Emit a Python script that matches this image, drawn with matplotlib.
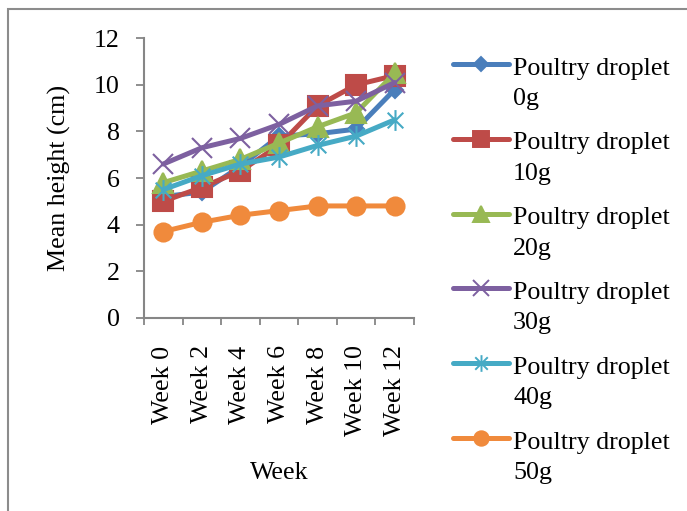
import matplotlib
matplotlib.use('Agg')
import matplotlib.pyplot as plt
from matplotlib.lines import Line2D
from matplotlib.patches import Rectangle
from matplotlib.path import Path

weeks = ['Week 0', 'Week 2', 'Week 4', 'Week 6', 'Week 8', 'Week 10', 'Week 12']
doses = ['0g', '10g', '20g', '30g', '40g', '50g']

h_0g = [5.2, 5.4, 6.5, 7.8, 7.9, 8.1, 9.8]
h_10g = [5.0, 5.6, 6.3, 7.4, 9.1, 10.0, 10.4]
h_20g = [5.8, 6.3, 6.8, 7.5, 8.2, 8.8, 10.5]
h_30g = [6.6, 7.3, 7.7, 8.3, 9.1, 9.3, 10.1]
h_40g = [5.5, 6.1, 6.6, 6.9, 7.4, 7.8, 8.5]
h_50g = [3.7, 4.1, 4.4, 4.6, 4.8, 4.8, 4.8]
series = [h_0g, h_10g, h_20g, h_30g, h_40g, h_50g]

colors = ['#4A7EBB', '#BE4B48', '#98B954', '#7D60A0', '#46AAC5', '#F08A3C']

# excel style star: vertical bar + x
star = Path([(0, -1), (0, 1), (-0.75, -0.75), (0.75, 0.75), (-0.75, 0.75), (0.75, -0.75)],
            [Path.MOVETO, Path.LINETO, Path.MOVETO, Path.LINETO, Path.MOVETO, Path.LINETO])
markers = ['D', 's', '^', 'x', star, 'o']
msizes = [8.5, 14, 14, 15, 15, 13]

fs = 18.7
plt.rcParams['font.family'] = ['Liberation Serif', 'DejaVu Serif']

W, H = 687, 511
fig = plt.figure(figsize=(W / 100, H / 100), dpi=100)
ax = fig.add_axes([144 / W, 1 - 317.7 / H, 270 / W, 279.4 / H])

x = [i + 0.5 for i in range(len(weeks))]
lines = []
for vals, c, m, ms in zip(series, colors, markers, msizes):
    ln, = ax.plot(x, vals, color=c, lw=3.6, marker=m, ms=ms,
                  mfc=c, mec=c, mew=1.5, solid_capstyle='round')
    lines.append(ln)

ax.set_xlim(0, 7)
ax.set_ylim(0, 12)
ax.set_yticks(range(0, 13, 2))
ax.set_xticks(range(0, 8))
ax.set_xticklabels([])
ax.set_xticks(x, minor=True)
ax.set_xticklabels(weeks, minor=True, rotation=90, fontsize=fs)
ax.tick_params(axis='x', which='major', length=5, width=1.3, color='#868686')
ax.tick_params(axis='x', which='minor', length=0, pad=20)
ax.tick_params(axis='y', length=5.5, width=1.3, color='#868686', labelsize=fs, pad=12)
for s in ['top', 'right']:
    ax.spines[s].set_visible(False)
for s in ['left', 'bottom']:
    ax.spines[s].set_color('#868686')
    ax.spines[s].set_linewidth(1.5)

ax.set_ylabel('Mean height (cm)', fontsize=fs)
ax.yaxis.set_label_coords(-0.27, 0.5)
ax.set_xlabel('Week', fontsize=fs)
ax.xaxis.set_label_coords(0.5, -0.515)

# legend drawn by hand so the key sits on the first text line
for i, (ln, d) in enumerate(zip(lines, doses)):
    yc = 64 + 74.8 * i
    yf = 1 - yc / H
    fig.add_artist(Line2D([453 / W, 509 / W], [yf, yf], transform=fig.transFigure,
                          color=ln.get_color(), lw=3.6, solid_capstyle='round'))
    fig.add_artist(Line2D([481 / W], [yf], transform=fig.transFigure,
                          marker=ln.get_marker(), ms=ln.get_markersize() * 0.8,
                          color=ln.get_color(), mew=1.4, ls='none'))
    fig.text(513 / W, 1 - (yc + 10.5) / H, 'Poultry droplet', fontsize=fs, va='baseline')
    fig.text(513 / W, 1 - (yc + 41) / H, d, fontsize=fs, va='baseline')

# outer chart frame
fig.add_artist(Rectangle((8 / W, -0.1), 1.2, 1 - 9 / H + 0.1, transform=fig.transFigure,
                         fill=False, ec='#8C8C8C', lw=1.5))

fig.savefig('out.png', dpi=100)
